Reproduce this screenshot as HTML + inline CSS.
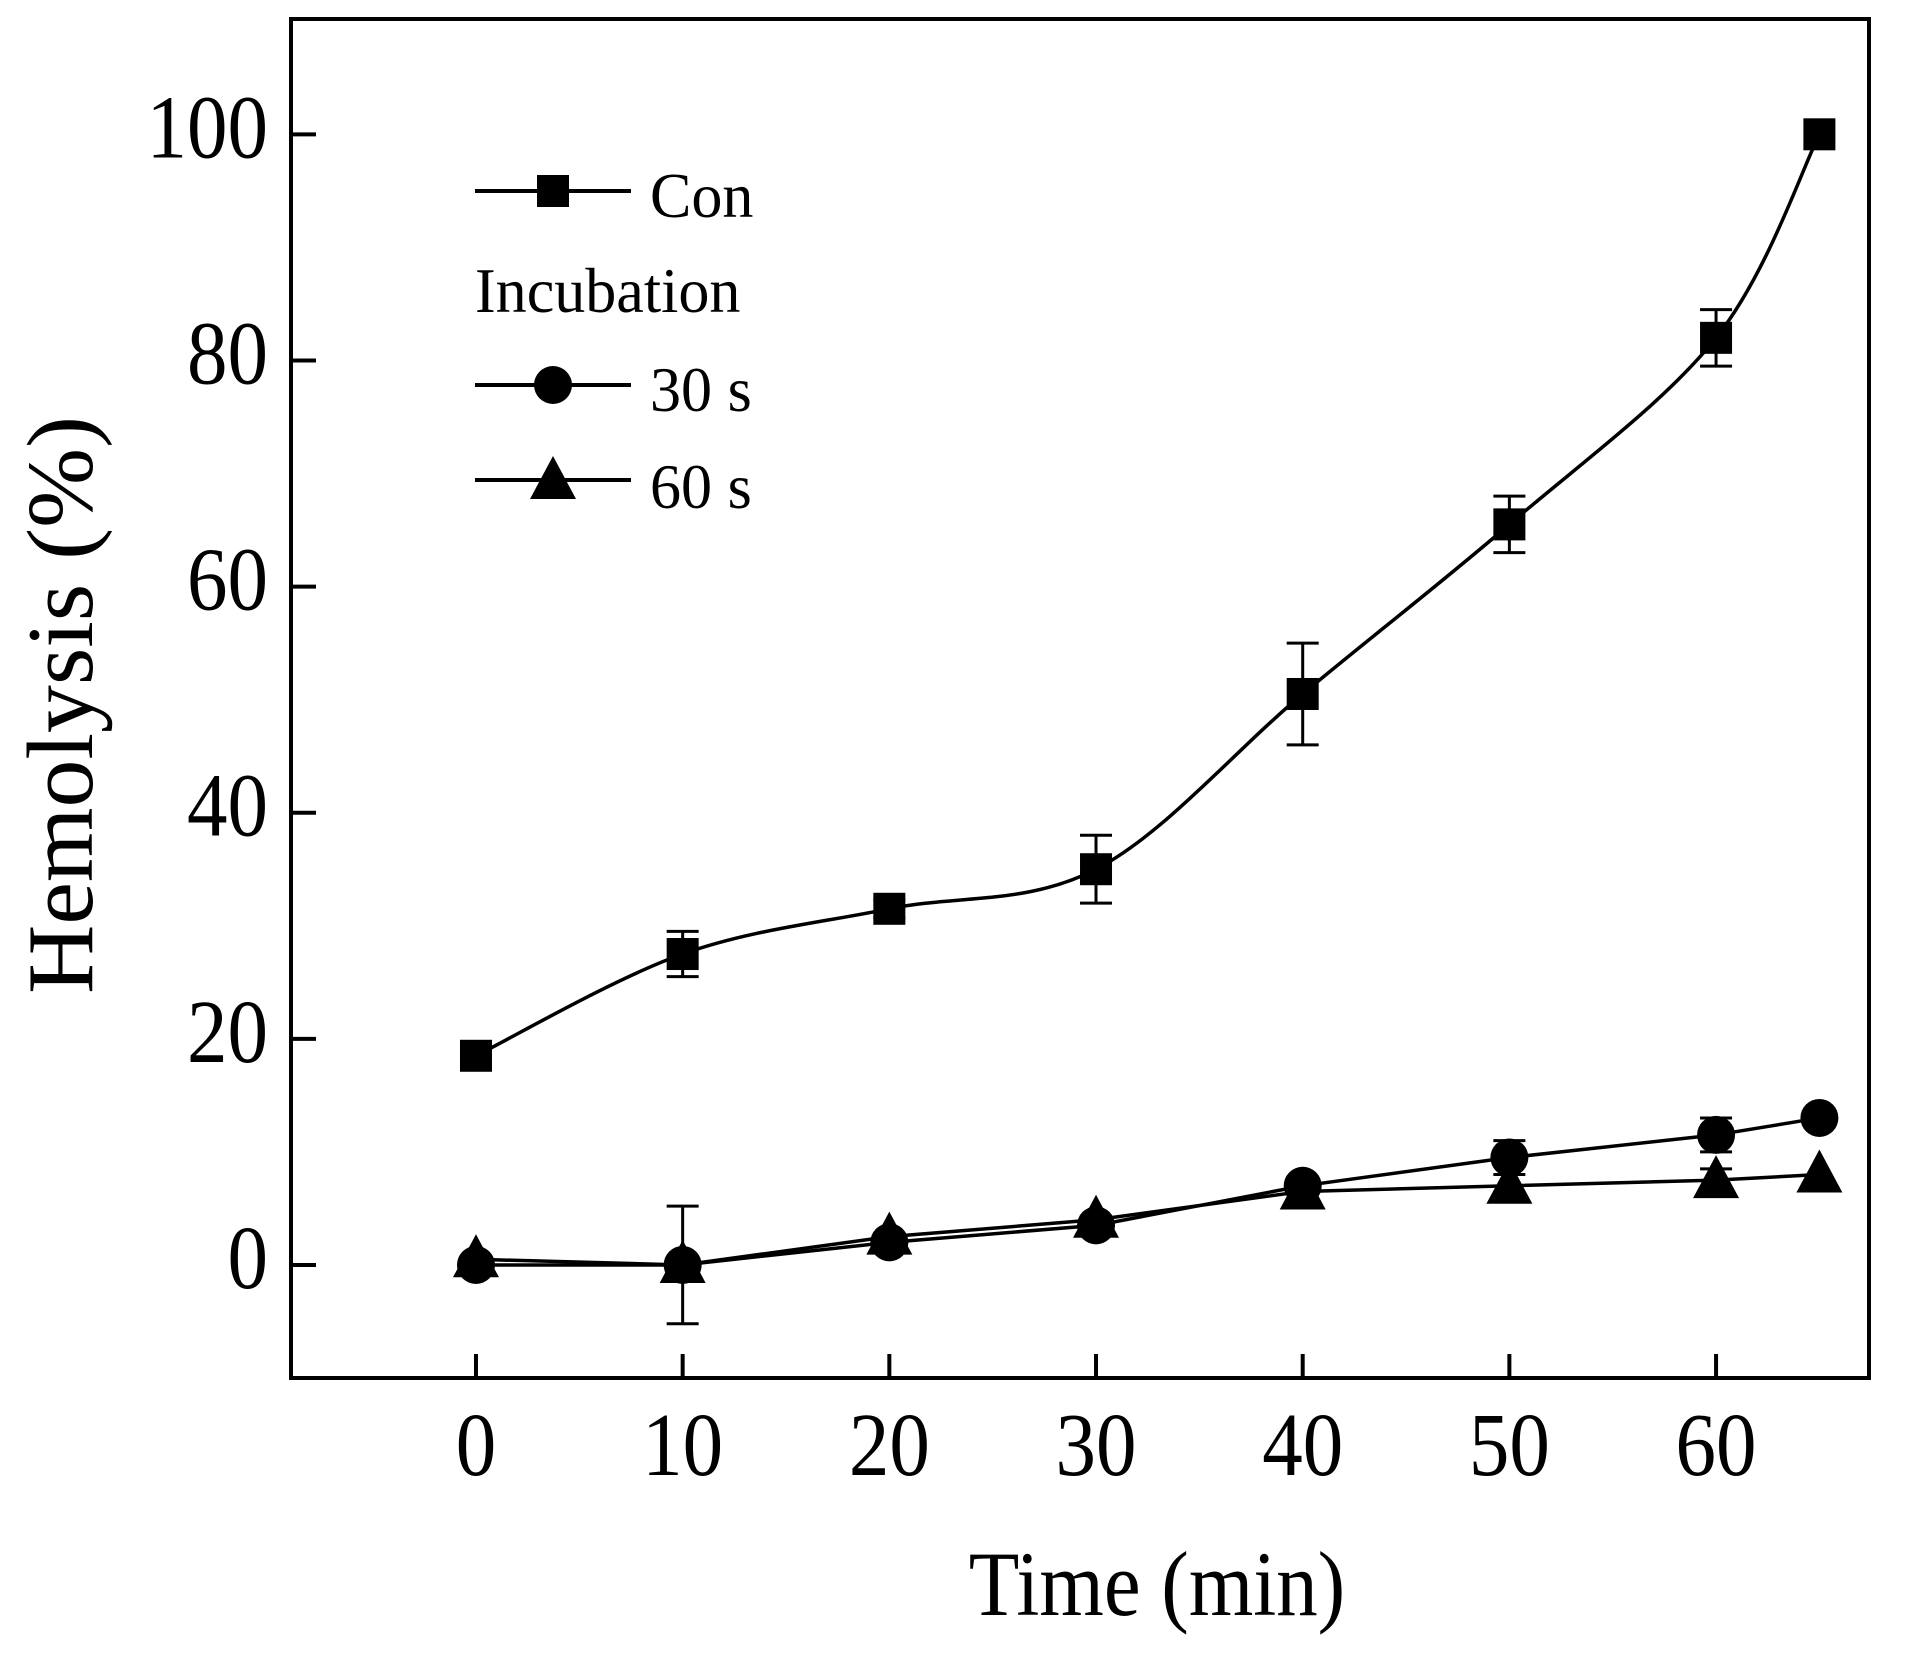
<!DOCTYPE html>
<html><head><meta charset="utf-8"><style>
html,body{margin:0;padding:0;background:#fff;}
svg{display:block;}
text{font-family:"Liberation Serif",serif;fill:#000;}
</style></head><body>
<svg id="chart" width="1915" height="1656" viewBox="0 0 1915 1656" xmlns="http://www.w3.org/2000/svg">
<g id="axes"></g>
<g id="series"></g>
<g id="legend">
  <line x1="475" y1="191" x2="631" y2="191" stroke="#000" stroke-width="4"/>
  <rect x="537" y="175" width="32" height="32" fill="#000"/>
  <text x="650" y="217" font-size="64" transform="translate(650 0) scale(0.97 1) translate(-650 0)">Con</text>
  <text x="475" y="312" font-size="64" transform="translate(475 0) scale(0.97 1) translate(-475 0)">Incubation</text>
  <line x1="475" y1="385" x2="631" y2="385" stroke="#000" stroke-width="4"/>
  <circle cx="553" cy="385" r="19" fill="#000"/>
  <text x="650" y="411" font-size="64" transform="translate(650 0) scale(0.97 1) translate(-650 0)">30 s</text>
  <line x1="475" y1="480" x2="631" y2="480" stroke="#000" stroke-width="4"/>
  <polygon points="553,456 530,499 576,499" fill="#000"/>
  <text x="650" y="508" font-size="64" transform="translate(650 0) scale(0.97 1) translate(-650 0)">60 s</text>
</g>
</svg>
<script>
const times = [0, 10, 20, 30, 40, 50, 60, 65];
const conValues = [18.5, 27.5, 31.5, 35, 50.5, 65.5, 82, 100];
const conErrors = [0, 2, 0.8, 3, 4.5, 2.5, 2.5, 0];
const s30Values = [0, 0, 2, 3.5, 7, 9.5, 11.5, 13];
const s30Errors = [0, 5.2, 0.5, 0.5, 0.5, 1.5, 1.5, 0];
const s60Values = [0.5, 0, 2.5, 4, 6.5, 7, 7.5, 8];
const s60Errors = [0, 0, 0, 0, 0, 0, 1, 0];
const xTicks = [0, 10, 20, 30, 40, 50, 60];
const yTicks = [0, 20, 40, 60, 80, 100];

const L = 291, R = 1869, T = 19, B = 1378;
const xMin = -8.95, xMax = 67.4, yMin = -10, yMax = 110.2;
const xs = v => L + (v - xMin) / (xMax - xMin) * (R - L);
const ys = v => B - (v - yMin) / (yMax - yMin) * (B - T);
const NS = "http://www.w3.org/2000/svg";
function mk(tag, attrs, parent) {
  const e = document.createElementNS(NS, tag);
  for (const k in attrs) e.setAttribute(k, attrs[k]);
  parent.appendChild(e);
  return e;
}
const axes = document.getElementById('axes');
const series = document.getElementById('series');

const frame = mk('rect', {x: L, y: T, width: R - L, height: B - T, fill: 'none', stroke: '#000', 'stroke-width': 4}, axes);



xTicks.forEach(v => {
  const x = xs(v);
  const t = mk('line', {x1: x, y1: B, x2: x, y2: B - 24, stroke: '#000', 'stroke-width': 4}, axes);
  
  
  const lb = mk('text', {x: x, y: 1475, 'font-size': 90, 'text-anchor': 'middle', transform: `translate(${x} 0) scale(0.9 1) translate(${-x} 0)`}, axes);
  lb.textContent = v;
  
  
});
yTicks.forEach(v => {
  const y = ys(v);
  const t = mk('line', {x1: L, y1: y, x2: L + 25, y2: y, stroke: '#000', 'stroke-width': 4}, axes);
  
  
  const lb = mk('text', {x: 268, y: y + 23, 'font-size': 90, 'text-anchor': 'end', transform: `translate(268 0) scale(0.9 1) translate(-268 0)`}, axes);
  lb.textContent = v;
  
  
});
const xt = mk('text', {x: 1157, y: 1615, 'font-size': 92, 'text-anchor': 'middle', transform: 'translate(1157 0) scale(0.9 1) translate(-1157 0)'}, axes);
xt.textContent = 'Time (min)';


const yt = mk('text', {x: 0, y: 0, 'font-size': 94, 'text-anchor': 'middle', transform: 'translate(92 705) rotate(-90) scale(1.02 1)'}, axes);
yt.textContent = 'Hemolysis (%)';



function smoothPath(pts) {
  let d = `M${pts[0][0]},${pts[0][1]}`;
  for (let i = 0; i < pts.length - 1; i++) {
    const p0 = pts[Math.max(0, i - 1)], p1 = pts[i], p2 = pts[i + 1], p3 = pts[Math.min(pts.length - 1, i + 2)];
    const c1 = [p1[0] + (p2[0] - p0[0]) / 6, p1[1] + (p2[1] - p0[1]) / 6];
    const c2 = [p2[0] - (p3[0] - p1[0]) / 6, p2[1] - (p3[1] - p1[1]) / 6];
    d += ` C${c1[0]},${c1[1]} ${c2[0]},${c2[1]} ${p2[0]},${p2[1]}`;
  }
  return d;
}
function drawSeries(name, vals, errs, shape, smooth) {
  const g = mk('g', {}, series);
  
  
  const pts = times.map((t, i) => [xs(t), ys(vals[i])]);
  const d = smooth ? smoothPath(pts) : 'M' + pts.map(p => p.join(',')).join(' L');
  const ln = mk('path', {d: d, fill: 'none', stroke: '#000', 'stroke-width': 3.5}, g);
  
  
  times.forEach((t, i) => {
    const x = xs(t), y = ys(vals[i]);
    if (errs[i] > 0) {
      const y1 = ys(vals[i] + errs[i]), y2 = ys(vals[i] - errs[i]);
      const eb = mk('path', {d: `M${x},${y1} L${x},${y2} M${x - 16},${y1} L${x + 16},${y1} M${x - 16},${y2} L${x + 16},${y2}`, stroke: '#000', 'stroke-width': 3, fill: 'none'}, g);
      
      
    }
    let m;
    if (shape === 'square') m = mk('rect', {x: x - 16, y: y - 16, width: 32, height: 32, fill: '#000'}, g);
    else if (shape === 'circle') m = mk('circle', {cx: x, cy: y, r: 19, fill: '#000'}, g);
    else m = mk('polygon', {points: `${x},${y - 25} ${x - 23},${y + 18} ${x + 23},${y + 18}`, fill: '#000'}, g);
    
    
  });
}
drawSeries('60s', s60Values, s60Errors, 'triangle', false);
drawSeries('30s', s30Values, s30Errors, 'circle', false);
drawSeries('con', conValues, conErrors, 'square', true);
</script>
</body></html>
